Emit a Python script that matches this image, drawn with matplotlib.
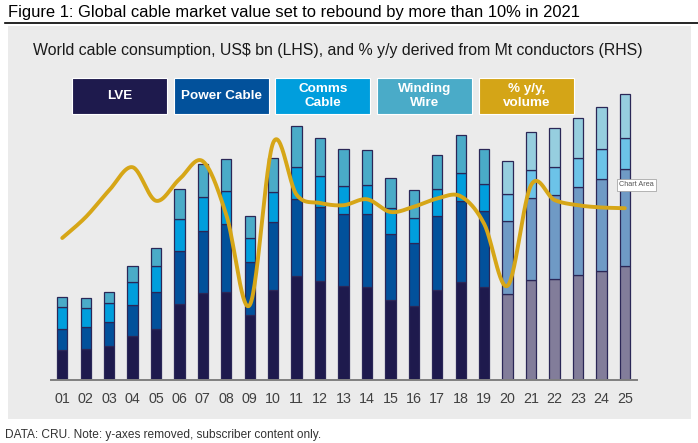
import matplotlib
matplotlib.use("Agg")
import matplotlib.pyplot as plt
import numpy as np
from matplotlib.patches import Rectangle
from matplotlib.lines import Line2D

plt.rcParams['font.family'] = ['Liberation Sans', 'DejaVu Sans']

# ---- data (US$ bn on LHS, % y/y on RHS) ----
years = ["01", "02", "03", "04", "05", "06", "07", "08", "09", "10", "11", "12", "13",
         "14", "15", "16", "17", "18", "19", "20", "21", "22", "23", "24", "25"]
lve = [30, 31, 34, 44, 51, 76, 87, 88, 65, 90, 104, 99, 94,
       93, 80, 74, 90, 98, 93, 86, 100, 101, 105, 109, 114]
power = [21, 22, 24, 31, 37, 53, 62, 68, 53, 68, 77, 74, 72,
         73, 66, 63, 74, 81, 76, 73, 82, 84, 88, 92, 97]
comms = [22, 19, 19, 23, 26, 32, 34, 33, 24, 30, 32, 31, 28,
         29, 26, 25, 27, 28, 27, 27, 28, 28, 29, 30, 31]
winding = [10, 10, 11, 16, 18, 30, 33, 32, 22, 34, 41, 38, 37,
           35, 30, 28, 34, 38, 35, 33, 38, 39, 40, 42, 44]
pct_yy = [1.0, 3.8, 7.4, 10.5, 6.0, 8.9, 11.3, 4.1, -8.0, 13.8, 6.8, 5.7, 5.4,
          6.2, 4.5, 5.2, 6.3, 6.6, 2.9, -5.4, 8.1, 6.1, 5.4, 5.1, 5.0]
n_actual = 19  # 2001-2019 actual, 2020-2025 lighter (estimate/forecast)

series_names = ["LVE", "Power Cable", "Comms\nCable", "Winding\nWire", "% y/y,\nvolume"]
actual_colors = ["#1E1A4D", "#02519B", "#009EDD", "#4AABC8"]
fcst_colors = ["#827D9A", "#6F9AC5", "#6CC3E8", "#96CEDF"]
legend_colors = ["#1E1A4D", "#02519B", "#009EDD", "#4AABC8", "#D4A517"]
line_color = "#D6A617"
edge_color = "#2B2757"

W, H = 698, 443
fig = plt.figure(figsize=(W / 100, H / 100), dpi=100)
fig.patch.set_facecolor("white")

def fx(px):
    return px / W

def fy(py):
    return 1 - py / H

# gray chart panel
fig.patches.append(Rectangle((fx(8), fy(419)), fx(683), 393 / H, transform=fig.transFigure,
                             facecolor="#EBEBEB", edgecolor="none", zorder=-5))
# title + rule
fig.text(fx(8), fy(12.5), "Figure 1: Global cable market value set to rebound by more than 10% in 2021",
         fontsize=11.9, color="black", va="center", ha="left")
fig.add_artist(Line2D([fx(5), fx(698)], [fy(23), fy(23)], color="black", lw=1.2,
                      transform=fig.transFigure))
# subtitle
fig.text(fx(338), fy(50), "World cable consumption, US$ bn (LHS), and % y/y derived from Mt conductors (RHS)",
         fontsize=11.4, color="#1a1a1a", va="center", ha="center")
# footer
fig.text(fx(5), fy(435), "DATA: CRU. Note: y-axes removed, subscriber content only.",
         fontsize=8.6, color="#333333", va="center", ha="left")

# legend boxes
box_x0 = 72
box_w = 95
box_gap = 6.7
for i, (name, col) in enumerate(zip(series_names, legend_colors)):
    x0 = box_x0 + i * (box_w + box_gap)
    fig.patches.append(Rectangle((fx(x0), fy(113.5)), fx(box_w), 36 / H, transform=fig.transFigure,
                                 facecolor=col, edgecolor="white", lw=0.8, zorder=-1))
    fig.text(fx(x0 + box_w / 2), fy(96), name, color="white", fontsize=9.7, fontweight="bold",
             ha="center", va="center", linespacing=1.15, zorder=3)

# main axes: baseline at y=379.5 px, axis line from x=51 to 637
ax_bottom, ax_top = 379.5, 60.0
ax = fig.add_axes([fx(51), fy(ax_bottom), fx(637 - 51), (ax_bottom - ax_top) / H])
ax.set_facecolor("none")
x = np.arange(1, len(years) + 1)
ax.set_xlim(0.52, 25.52)
ax.set_ylim(0, ax_bottom - ax_top)

bottom = np.zeros(len(years))
for k, vals in enumerate([lve, power, comms, winding]):
    cols = [actual_colors[k] if i < n_actual else fcst_colors[k] for i in range(len(years))]
    ax.bar(x, vals, width=0.44, bottom=bottom, color=cols, edgecolor=edge_color,
           linewidth=0.9, zorder=2)
    bottom += np.array(vals)

for s in ["top", "right", "left"]:
    ax.spines[s].set_visible(False)
ax.spines["bottom"].set_color("#808080")
ax.spines["bottom"].set_linewidth(1.4)
ax.set_yticks([])
ax.set_xticks(x)
ax.set_xticklabels(years, fontsize=10.3, color="#404040")
ax.tick_params(axis="x", length=0, pad=9)

# secondary axis for % y/y (smoothed line, Excel-style Catmull-Rom)
ax2 = ax.twinx()
ax2.set_ylim(-18.0, 24.9)
ax2.set_yticks([])
for s in ax2.spines.values():
    s.set_visible(False)

px = x.astype(float)
py = np.array(pct_yy, dtype=float)
xs, ys = [], []
t = np.linspace(0, 1, 30)
for i in range(len(px) - 1):
    p0 = (px[max(i - 1, 0)], py[max(i - 1, 0)])
    p1 = (px[i], py[i])
    p2 = (px[i + 1], py[i + 1])
    p3 = (px[min(i + 2, len(px) - 1)], py[min(i + 2, len(px) - 1)])
    c1 = (p1[0] + (p2[0] - p0[0]) / 6, p1[1] + (p2[1] - p0[1]) / 6)
    c2 = (p2[0] - (p3[0] - p1[0]) / 6, p2[1] - (p3[1] - p1[1]) / 6)
    bx = (1 - t) ** 3 * p1[0] + 3 * (1 - t) ** 2 * t * c1[0] + 3 * (1 - t) * t ** 2 * c2[0] + t ** 3 * p2[0]
    by = (1 - t) ** 3 * p1[1] + 3 * (1 - t) ** 2 * t * c1[1] + 3 * (1 - t) * t ** 2 * c2[1] + t ** 3 * p2[1]
    xs.extend(bx)
    ys.extend(by)
ax2.plot(xs, ys, color=line_color, lw=2.8, solid_capstyle="round", zorder=5)

# screenshot tooltip
fig.text(fx(619), fy(185), "Chart Area", fontsize=5.2, color="#555555", ha="left", va="center",
         bbox=dict(boxstyle="square,pad=0.3", facecolor="white", edgecolor="#999999", lw=0.5))

fig.savefig("out.png", dpi=100)
